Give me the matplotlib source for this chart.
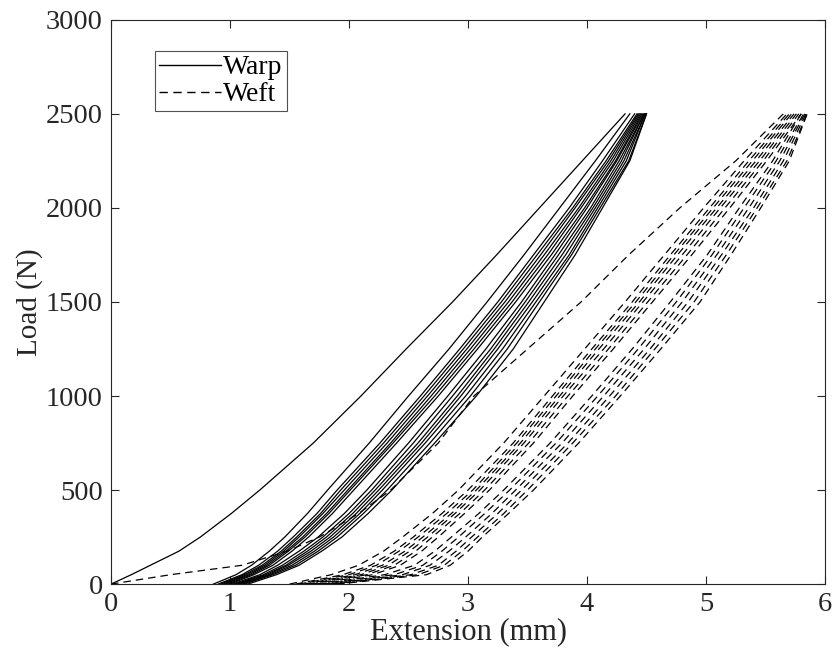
import matplotlib
matplotlib.use("Agg")
import matplotlib.pyplot as plt

# Load levels (N) at which extensions were read
loads = [0, 50, 100, 175, 250, 375, 500, 750, 1000, 1250, 1500, 1750, 2000, 2250, 2500]

# Warp specimens: extension (mm) at each load level
warp_0 = [0.00, 0.17, 0.33, 0.57, 0.75, 1.01, 1.25, 1.70, 2.10, 2.48, 2.87, 3.24, 3.60, 3.96, 4.32]
warp_a1 = [0.86, 1.05, 1.18, 1.33, 1.46, 1.65, 1.82, 2.17, 2.50, 2.84, 3.16, 3.47, 3.77, 4.07, 4.36]
warp_a2 = [0.90, 1.10, 1.24, 1.40, 1.53, 1.73, 1.90, 2.26, 2.60, 2.93, 3.25, 3.55, 3.85, 4.13, 4.40]
warp_a3 = [0.92, 1.12, 1.27, 1.43, 1.56, 1.76, 1.93, 2.29, 2.63, 2.96, 3.28, 3.58, 3.88, 4.16, 4.42]
warp_a4 = [0.94, 1.14, 1.29, 1.45, 1.58, 1.78, 1.96, 2.32, 2.66, 2.99, 3.31, 3.61, 3.90, 4.18, 4.43]
warp_a5 = [0.96, 1.16, 1.31, 1.47, 1.61, 1.81, 1.99, 2.35, 2.69, 3.02, 3.34, 3.64, 3.93, 4.20, 4.44]
warp_a6 = [0.98, 1.18, 1.33, 1.49, 1.63, 1.83, 2.01, 2.37, 2.72, 3.05, 3.37, 3.67, 3.95, 4.22, 4.45]
warp_a7 = [1.00, 1.20, 1.36, 1.52, 1.66, 1.86, 2.04, 2.40, 2.75, 3.08, 3.40, 3.70, 3.98, 4.24, 4.46]
warp_b1 = [1.02, 1.25, 1.40, 1.58, 1.74, 1.96, 2.15, 2.50, 2.83, 3.15, 3.45, 3.73, 4.00, 4.25, 4.47]
warp_b2 = [1.04, 1.28, 1.44, 1.62, 1.78, 2.00, 2.19, 2.54, 2.87, 3.19, 3.48, 3.76, 4.03, 4.27, 4.48]
warp_b3 = [1.06, 1.30, 1.47, 1.65, 1.81, 2.03, 2.22, 2.58, 2.91, 3.22, 3.51, 3.79, 4.05, 4.29, 4.48]
warp_b4 = [1.08, 1.32, 1.49, 1.68, 1.84, 2.06, 2.25, 2.61, 2.94, 3.25, 3.54, 3.82, 4.07, 4.31, 4.49]
warp_b5 = [1.10, 1.34, 1.52, 1.71, 1.87, 2.09, 2.28, 2.64, 2.98, 3.29, 3.57, 3.85, 4.09, 4.33, 4.49]
warp_b6 = [1.12, 1.36, 1.55, 1.74, 1.90, 2.12, 2.32, 2.68, 3.02, 3.33, 3.60, 3.87, 4.11, 4.35, 4.50]
warp_b7 = [1.15, 1.39, 1.58, 1.77, 1.94, 2.16, 2.36, 2.72, 3.07, 3.38, 3.64, 3.90, 4.13, 4.36, 4.50]

# Weft specimens: extension (mm) at each load level
weft_0 = [0.00, 0.50, 1.10, 1.48, 1.75, 2.08, 2.35, 2.75, 3.05, 3.50, 3.95, 4.35, 4.78, 5.25, 5.65]
weft_c1 = [1.50, 1.85, 2.08, 2.29, 2.45, 2.70, 2.92, 3.30, 3.64, 3.98, 4.32, 4.65, 4.98, 5.32, 5.68]
weft_c2 = [1.55, 1.95, 2.18, 2.38, 2.54, 2.78, 3.00, 3.38, 3.71, 4.04, 4.38, 4.70, 5.03, 5.36, 5.70]
weft_c3 = [1.58, 2.00, 2.23, 2.42, 2.58, 2.82, 3.04, 3.41, 3.74, 4.07, 4.41, 4.73, 5.06, 5.39, 5.72]
weft_c4 = [1.62, 2.05, 2.28, 2.47, 2.62, 2.86, 3.07, 3.44, 3.77, 4.10, 4.44, 4.76, 5.09, 5.42, 5.74]
weft_c5 = [1.65, 2.10, 2.33, 2.51, 2.66, 2.89, 3.10, 3.47, 3.80, 4.14, 4.47, 4.80, 5.12, 5.45, 5.76]
weft_c6 = [1.68, 2.15, 2.38, 2.56, 2.70, 2.93, 3.14, 3.51, 3.84, 4.18, 4.51, 4.84, 5.16, 5.48, 5.78]
weft_c7 = [1.72, 2.20, 2.43, 2.61, 2.75, 2.97, 3.18, 3.55, 3.88, 4.22, 4.55, 4.88, 5.20, 5.51, 5.80]
weft_d1 = [1.75, 2.30, 2.55, 2.72, 2.86, 3.09, 3.30, 3.69, 4.04, 4.38, 4.70, 5.01, 5.28, 5.56, 5.80]
weft_d2 = [1.78, 2.38, 2.62, 2.78, 2.92, 3.14, 3.35, 3.74, 4.09, 4.43, 4.75, 5.05, 5.32, 5.59, 5.82]
weft_d3 = [1.82, 2.45, 2.68, 2.84, 2.98, 3.20, 3.40, 3.79, 4.14, 4.48, 4.80, 5.09, 5.36, 5.62, 5.83]
weft_d4 = [1.85, 2.52, 2.75, 2.90, 3.03, 3.25, 3.45, 3.84, 4.19, 4.53, 4.85, 5.13, 5.40, 5.65, 5.84]
weft_d5 = [1.88, 2.58, 2.80, 2.95, 3.08, 3.30, 3.50, 3.88, 4.24, 4.57, 4.90, 5.17, 5.43, 5.68, 5.85]
weft_d6 = [1.90, 2.65, 2.85, 3.00, 3.12, 3.34, 3.55, 3.93, 4.28, 4.62, 4.95, 5.21, 5.46, 5.70, 5.85]

warp_curves = [warp_0, warp_a1, warp_a2, warp_a3, warp_a4, warp_a5, warp_a6, warp_a7,
               warp_b1, warp_b2, warp_b3, warp_b4, warp_b5, warp_b6, warp_b7]
weft_curves = [weft_0, weft_c1, weft_c2, weft_c3, weft_c4, weft_c5, weft_c6, weft_c7,
               weft_d1, weft_d2, weft_d3, weft_d4, weft_d5, weft_d6]

x_ticks = [0, 1, 2, 3, 4, 5, 6]
y_ticks = [0, 500, 1000, 1500, 2000, 2500, 3000]

plt.rcParams['font.family'] = ['Liberation Serif', 'DejaVu Serif']

fig = plt.figure(figsize=(8.35, 6.6), dpi=100)
ax = fig.add_axes([0.133, 0.115, 0.855, 0.855])

for i, c in enumerate(warp_curves):
    ax.plot(c, loads, color='black', linewidth=0.9, linestyle='-',
            label='Warp' if i == 0 else None)
for i, c in enumerate(weft_curves):
    ax.plot(c, loads, color='black', linewidth=0.9, linestyle=(0, (6, 4)),
            label='Weft' if i == 0 else None)

ax.set_xlim(0, 6)
ax.set_ylim(0, 3000)
ax.set_xticks(x_ticks)
ax.set_yticks(y_ticks)
ax.tick_params(direction='in', top=True, right=True, labelsize=20.5, pad=6,
               length=6, width=0.8, colors='#262626', labelcolor='#262626')
for s in ax.spines.values():
    s.set_color('#262626')
    s.set_linewidth(0.8)
ax.set_xlabel('Extension (mm)', fontsize=22, color='#262626', labelpad=0)
ax.set_ylabel('Load (N)', fontsize=21, color='#262626', labelpad=2)

leg = ax.legend(loc='upper left', bbox_to_anchor=(0.062, 0.945), fontsize=20,
                frameon=True, fancybox=False, handlelength=2.2, handletextpad=0.1,
                borderpad=0.15, labelspacing=0.05, borderaxespad=0)
leg.get_frame().set_edgecolor('#262626')
leg.get_frame().set_linewidth(0.8)
for line in leg.get_lines():
    line.set_linewidth(1.0)

fig.savefig('out.png', dpi=100)
